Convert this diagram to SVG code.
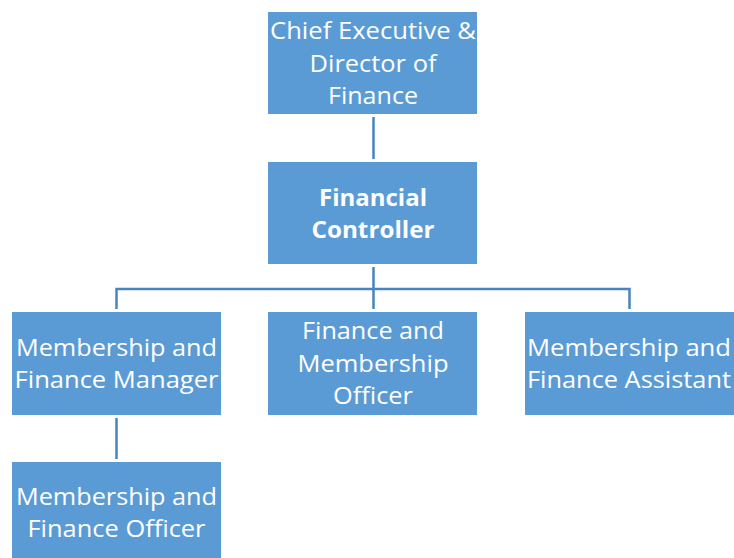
<svg xmlns="http://www.w3.org/2000/svg" width="734" height="558" viewBox="0 0 734 558">
  <style>
    .box { fill: #5B9BD5; }
    .lbl { fill: #FFFFFF; font-family: "Open Sans", "Liberation Sans", sans-serif; font-size: 24px; text-anchor: middle; }
    .bold { font-weight: bold; }
    .link { fill: none; stroke: #4A84C0; stroke-width: 2.5; }
  </style>
  <rect width="734" height="558" fill="#FFFFFF"/>

  <g id="connectors">
    <line class="link" x1="373.5" y1="117" x2="373.5" y2="159"/>
    <path class="link" d="M373.5 267 V309 M116.5 309 V289 H629.5 V309"/>
    <line class="link" x1="116.5" y1="418" x2="116.5" y2="459"/>
  </g>

  <g id="chief-executive">
    <rect class="box" x="268" y="12" width="209" height="102"/>
    <text class="lbl" x="373" y="39" textLength="206" lengthAdjust="spacingAndGlyphs">Chief Executive &amp;</text>
    <text class="lbl" x="373" y="72" textLength="127" lengthAdjust="spacingAndGlyphs">Director of</text>
    <text class="lbl" x="373" y="104" textLength="90" lengthAdjust="spacingAndGlyphs">Finance</text>
  </g>

  <g id="financial-controller">
    <rect class="box" x="268" y="162" width="209" height="102"/>
    <text class="lbl bold" x="373" y="206" textLength="108" lengthAdjust="spacingAndGlyphs">Financial</text>
    <text class="lbl bold" x="373" y="238" textLength="123" lengthAdjust="spacingAndGlyphs">Controller</text>
  </g>

  <g id="membership-finance-manager">
    <rect class="box" x="12" y="312" width="209" height="103"/>
    <text class="lbl" x="116.5" y="356" textLength="201" lengthAdjust="spacingAndGlyphs">Membership and</text>
    <text class="lbl" x="116.5" y="388" textLength="204" lengthAdjust="spacingAndGlyphs">Finance Manager</text>
  </g>

  <g id="finance-membership-officer">
    <rect class="box" x="268" y="312" width="209" height="103"/>
    <text class="lbl" x="373" y="339" textLength="142" lengthAdjust="spacingAndGlyphs">Finance and</text>
    <text class="lbl" x="373" y="372" textLength="151" lengthAdjust="spacingAndGlyphs">Membership</text>
    <text class="lbl" x="373" y="404" textLength="80" lengthAdjust="spacingAndGlyphs">Officer</text>
  </g>

  <g id="membership-finance-assistant">
    <rect class="box" x="525" y="312" width="209" height="103"/>
    <text class="lbl" x="629" y="356" textLength="204" lengthAdjust="spacingAndGlyphs">Membership and</text>
    <text class="lbl" x="629" y="388" textLength="204" lengthAdjust="spacingAndGlyphs">Finance Assistant</text>
  </g>

  <g id="membership-finance-officer">
    <rect class="box" x="12" y="462" width="209" height="103"/>
    <text class="lbl" x="116.5" y="505" textLength="201" lengthAdjust="spacingAndGlyphs">Membership and</text>
    <text class="lbl" x="116.5" y="537" textLength="178" lengthAdjust="spacingAndGlyphs">Finance Officer</text>
  </g>
</svg>
